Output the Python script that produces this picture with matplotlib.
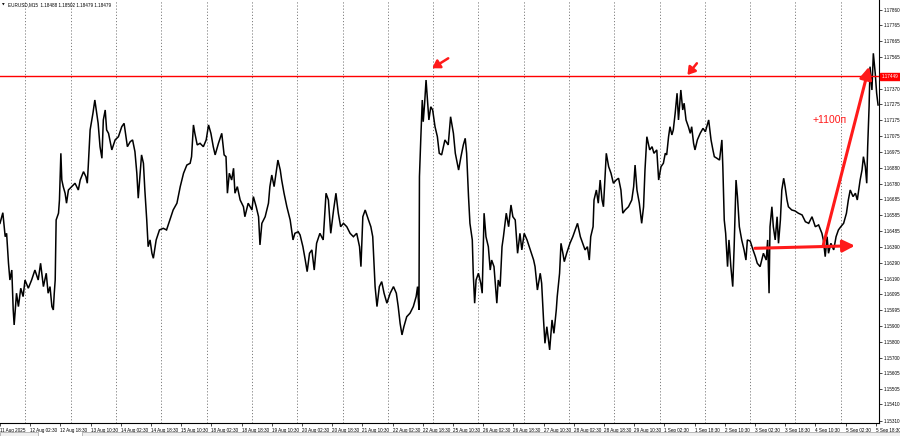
import matplotlib
matplotlib.use("Agg")
import matplotlib.pyplot as plt
from matplotlib.patches import Rectangle

plt.rcParams['font.family'] = ['Liberation Sans', 'DejaVu Sans']

# EURUSD M15, bar 0 = 11 Aug 2025 10:30 (weekends skipped)
bar_idx = [
    0, 6, 11, 14, 18, 21, 25, 28, 30, 35, 39, 44, 49, 53, 60, 67, 74, 81, 86, 92,
    98, 102, 106, 110, 113, 115, 117, 119, 124, 126, 129, 131, 134, 138, 141, 145, 152, 159, 166, 170,
    177, 182, 185, 187, 191, 197, 201, 205, 208, 212, 216, 219, 223, 226, 230, 237, 244, 251, 258, 263,
    267, 270, 276, 281, 286, 290, 293, 297, 300, 304, 307, 311, 314, 318, 322, 325, 331, 338, 346, 353,
    360, 367, 375, 382, 389, 396, 403, 406, 410, 413, 418, 424, 431, 437, 442, 447, 452, 456, 463, 470,
    475, 479, 482, 486, 491, 495, 498, 503, 509, 516, 519, 526, 534, 537, 543, 548, 551, 555, 562, 569,
    572, 576, 581, 585, 589, 594, 597, 602, 608, 615, 621, 625, 632, 636, 642, 647, 651, 656, 661, 666,
    671, 678, 685, 691, 696, 701, 707, 712, 717, 722, 728, 735, 742, 749, 756, 762, 765, 769, 774, 781,
    786, 790, 793, 795, 799, 804, 809, 814, 820, 827, 834, 840, 844, 848, 852, 856, 862, 869, 876, 882,
    885, 888, 889, 892, 895, 897, 900, 903, 906, 909, 913, 917, 922, 927, 931, 936, 943, 950, 955, 961,
    965, 972, 977, 982, 986, 989, 993, 996, 1001, 1003, 1006, 1009, 1014, 1019, 1022, 1026, 1030, 1035, 1039, 1042,
    1047, 1053, 1056, 1060, 1064, 1067, 1073, 1078, 1083, 1087, 1092, 1097, 1102, 1106, 1111, 1117, 1124, 1131, 1134, 1139,
    1145, 1148, 1152, 1155, 1159, 1165, 1170, 1174, 1179, 1181, 1186, 1189, 1193, 1196, 1201, 1208, 1214, 1219, 1224, 1230,
    1235, 1240, 1245, 1249, 1252, 1257, 1259, 1264, 1268, 1272, 1276, 1279, 1285, 1290, 1295, 1300, 1306, 1311, 1316, 1320,
    1325, 1332, 1339, 1343, 1346, 1350, 1355, 1360, 1364, 1367, 1371, 1377, 1382, 1386, 1392, 1396, 1401, 1406, 1410, 1413,
    1417, 1420, 1424, 1427, 1431, 1435, 1438, 1443, 1447, 1450, 1454, 1459, 1463, 1466, 1470, 1473, 1478, 1484, 1490, 1495,
    1502, 1507, 1511, 1514, 1519, 1525, 1530, 1532, 1535, 1538, 1542, 1545, 1549, 1553, 1556, 1560, 1563, 1567, 1572, 1577,
    1581, 1584, 1590, 1596, 1601, 1605, 1611, 1618, 1624, 1627, 1630, 1632, 1636, 1639, 1643, 1647, 1650, 1654, 1657, 1661,
    1664, 1668, 1671, 1678, 1685, 1692, 1700, 1707, 1714, 1721, 1728, 1735, 1742, 1745, 1749, 1753, 1756, 1761, 1767, 1772,
    1777, 1782, 1788, 1794, 1798, 1802, 1808, 1813, 1817, 1823, 1827, 1830, 1834, 1837, 1839, 1842, 1844, 1848, 1851, 1855,
    1858, 1861,
]
price = [
    1.16535, 1.16601, 1.16452, 1.16473, 1.16287, 1.16183, 1.16245, 1.15997, 1.15904, 1.16101,
    1.16018, 1.16132, 1.16080, 1.16183, 1.16132, 1.16183, 1.16245, 1.16183, 1.16287, 1.16142,
    1.16225, 1.16101, 1.16142, 1.16018, 1.15997, 1.16101, 1.16183, 1.16556, 1.16598, 1.16680,
    1.16970, 1.16804, 1.16763, 1.16722, 1.16660, 1.16742, 1.16763, 1.16784, 1.16742, 1.16804,
    1.16856, 1.16825, 1.16784, 1.16887, 1.17115, 1.17219, 1.17301, 1.17219, 1.17156, 1.17011,
    1.16939, 1.17177, 1.17239, 1.17115, 1.17094, 1.16991, 1.17053, 1.17073, 1.17135, 1.17156,
    1.17073, 1.17011, 1.17042, 1.17053, 1.16980, 1.16846, 1.16691, 1.16846, 1.16960, 1.16908,
    1.16742, 1.16556, 1.16390, 1.16432, 1.16349, 1.16318, 1.16432, 1.16494, 1.16504, 1.16494,
    1.16556, 1.16618, 1.16660, 1.16763, 1.16846, 1.16897, 1.16908, 1.16949, 1.17146, 1.17094,
    1.17022, 1.17032, 1.17011, 1.17053, 1.17146, 1.17094, 1.17011, 1.16960, 1.17032, 1.17094,
    1.16960, 1.16949, 1.16722, 1.16846, 1.16804, 1.16877, 1.16722, 1.16763, 1.16680, 1.16638,
    1.16576, 1.16660, 1.16618, 1.16701, 1.16638, 1.16576, 1.16401, 1.16535, 1.16576, 1.16660,
    1.16763, 1.16835, 1.16763, 1.16846, 1.16928, 1.16866, 1.16804, 1.16722, 1.16638, 1.16556,
    1.16432, 1.16473, 1.16483, 1.16463, 1.16390, 1.16307, 1.16235, 1.16349, 1.16370, 1.16245,
    1.16411, 1.16473, 1.16432, 1.16722, 1.16680, 1.16473, 1.16618, 1.16722, 1.16598, 1.16514,
    1.16535, 1.16514, 1.16473, 1.16452, 1.16473, 1.16390, 1.16266, 1.16576, 1.16618, 1.16556,
    1.16514, 1.16452, 1.16266, 1.16142, 1.16018, 1.16142, 1.16173, 1.16101, 1.16039, 1.16101,
    1.16142, 1.16101, 1.16018, 1.15914, 1.15842, 1.15893, 1.15955, 1.15977, 1.16018, 1.16080,
    1.16142, 1.15997, 1.16825, 1.17073, 1.17301, 1.17166, 1.17281, 1.17425, 1.17301, 1.17177,
    1.17259, 1.17239, 1.17135, 1.17073, 1.16970, 1.16960, 1.17053, 1.17022, 1.17197, 1.17094,
    1.16970, 1.16866, 1.16949, 1.17022, 1.17063, 1.16970, 1.16701, 1.16535, 1.16432, 1.16225,
    1.16039, 1.16183, 1.16225, 1.16163, 1.16101, 1.16598, 1.16452, 1.16390, 1.16245, 1.16307,
    1.16266, 1.16039, 1.16183, 1.16142, 1.16390, 1.16452, 1.16598, 1.16514, 1.16649, 1.16576,
    1.16556, 1.16349, 1.16473, 1.16370, 1.16473, 1.16432, 1.16370, 1.16307, 1.16266, 1.16121,
    1.16225, 1.16163, 1.15935, 1.15790, 1.15893, 1.15749, 1.15935, 1.15852, 1.15997, 1.16080,
    1.16225, 1.16411, 1.16349, 1.16297, 1.16349, 1.16411, 1.16452, 1.16494, 1.16535, 1.16452,
    1.16411, 1.16370, 1.16390, 1.16307, 1.16452, 1.16514, 1.16680, 1.16742, 1.16660, 1.16804,
    1.16680, 1.16638, 1.16970, 1.16887, 1.16846, 1.16784, 1.16804, 1.16815, 1.16742, 1.16598,
    1.16618, 1.16638, 1.16680, 1.16763, 1.16897, 1.16742, 1.16660, 1.16535, 1.16638, 1.16866,
    1.17073, 1.16991, 1.17011, 1.16970, 1.16991, 1.16804, 1.16887, 1.16908, 1.16970, 1.16960,
    1.17073, 1.17135, 1.17084, 1.17115, 1.17219, 1.17343, 1.17177, 1.17363, 1.17239, 1.17281,
    1.17177, 1.17135, 1.17094, 1.17135, 1.17032, 1.16991, 1.17053, 1.17094, 1.17125, 1.17104,
    1.17177, 1.17053, 1.16991, 1.16949, 1.16940, 1.16928, 1.17053, 1.16887, 1.16556, 1.16473,
    1.16266, 1.16432, 1.16266, 1.16142, 1.16390, 1.16804, 1.16701, 1.16514, 1.16432, 1.16370,
    1.16307, 1.16432, 1.16425, 1.16370, 1.16328, 1.16287, 1.16266, 1.16349, 1.16307, 1.16432,
    1.16101, 1.16514, 1.16638, 1.16514, 1.16432, 1.16576, 1.16411, 1.16556, 1.16742, 1.16815,
    1.16763, 1.16680, 1.16638, 1.16618, 1.16612, 1.16598, 1.16587, 1.16545, 1.16535, 1.16576,
    1.16514, 1.16525, 1.16473, 1.16432, 1.16328, 1.16452, 1.16349, 1.16411, 1.16370, 1.16452,
    1.16494, 1.16514, 1.16535, 1.16598, 1.16680, 1.16742, 1.16701, 1.16722, 1.16680, 1.16804,
    1.16866, 1.16949, 1.16887, 1.16784, 1.17011, 1.17259, 1.17508, 1.17363, 1.17591, 1.17467,
    1.17343, 1.17270,
]

# 1.17470 is hidden behind the level tag in the reference
price_ticks = [
    1.17860, 1.17765, 1.17665, 1.17565, 1.17370, 1.17275, 1.17175, 1.17075,
    1.16975, 1.16880, 1.16780, 1.16685, 1.16585, 1.16485, 1.16390, 1.16290, 1.16190,
    1.16095, 1.15995, 1.15900, 1.15800, 1.15700, 1.15605, 1.15505, 1.15410, 1.15310,
]
time_labels = [
    "11 Aug 2025", "12 Aug 02:30", "12 Aug 18:30", "13 Aug 10:30", "14 Aug 02:30",
    "14 Aug 18:30", "15 Aug 10:30", "18 Aug 02:30", "18 Aug 18:30", "19 Aug 10:30",
    "20 Aug 02:30", "20 Aug 18:30", "21 Aug 10:30", "22 Aug 02:30", "22 Aug 18:30",
    "25 Aug 10:30", "26 Aug 02:30", "26 Aug 18:30", "27 Aug 10:30", "28 Aug 02:30",
    "28 Aug 18:30", "29 Aug 10:30", "1 Sep 02:30", "1 Sep 18:30", "2 Sep 10:30",
    "3 Sep 02:30", "3 Sep 18:30", "4 Sep 10:30", "5 Sep 02:30", "5 Sep 18:30",
]
label_step = 64      # bars between time labels
first_midnight = 54  # 12 Aug 00:00
bars_per_day = 96
n_days = 19

level = 1.17449
title = "EURUSD,M15  1.18488 1.18502 1.18479 1.18479"

fig = plt.figure(figsize=(9, 4.36), dpi=100)
ax = fig.add_axes([0, 13 / 436, 879 / 900, 423 / 436])
ax.set_xlim(0, 1863)
ax.set_ylim(1.15295, 1.17922)

# day separators
for k in range(n_days):
    ax.axvline(first_midnight + k * bars_per_day, color="#7f7f7f", lw=0.7,
               ls=(0, (1.2, 2.0)), zorder=1)

ax.plot(bar_idx, price, color="black", lw=1.1, zorder=3, solid_joinstyle="miter")

ax.axhline(level, color="#ff0000", lw=1.0, zorder=4)

red = "#ff1a1a"
arrow_small = dict(arrowstyle="-|>,head_length=0.55,head_width=0.35", color=red, lw=1.8,
                   mutation_scale=8, shrinkA=0, shrinkB=0)
ax.annotate("", xy=(916, 1.17498), xytext=(950, 1.17560), arrowprops=arrow_small, zorder=5)
ax.annotate("", xy=(1457, 1.17456), xytext=(1477, 1.17529), arrowprops=arrow_small, zorder=5)

arrow_big = dict(arrowstyle="-|>,head_length=0.6,head_width=0.3", color=red, lw=2.2,
                 mutation_scale=12, shrinkA=0, shrinkB=0)
ax.annotate("", xy=(1812, 1.16396), xytext=(1600, 1.16380), arrowprops=arrow_big, zorder=5)
ax.annotate("", xy=(1842, 1.17508), xytext=(1745, 1.16401), arrowprops=arrow_big, zorder=5)
ax.text(1759, 1.17177, "+1100п", color=red, fontsize=7.5, ha="center", va="center", zorder=5)

# axes look
for s in ["left", "top"]:
    ax.spines[s].set_visible(False)
ax.spines["right"].set_linewidth(0.8)
ax.spines["bottom"].set_linewidth(0.8)

ax.yaxis.tick_right()
ax.set_yticks(price_ticks)
ax.set_yticklabels([f"{v:.5f}" for v in price_ticks])
ax.tick_params(axis="y", labelsize=3.3, length=2, width=0.5, pad=1.5, colors="black")

ax.set_xticks([i * label_step for i in range(len(time_labels))])
ax.set_xticklabels(time_labels, ha="left")
ax.tick_params(axis="x", labelsize=3.3, length=2, width=0.5, pad=1.5)

# current level tag on price scale
ax.text(1.003, level, "1.17449", transform=ax.get_yaxis_transform(), fontsize=3.3,
        color="white", va="center", ha="left",
        bbox=dict(boxstyle="square,pad=0.25", fc="#ff0000", ec="#ff0000"), zorder=6,
        clip_on=False)

fig.text(8 / 900, 1 - 5 / 436, title, fontsize=3.3, va="center", ha="left")
fig.text(2 / 900, 1 - 5 / 436, "▼", fontsize=2.5, va="center", ha="left",
         family="DejaVu Sans")

# tab strip at the bottom
fig.patches.append(Rectangle((0, 0), 38 / 900, 4 / 436, transform=fig.transFigure,
                             fc="#f0f0f0", ec="#a0a0a0", lw=0.5))
fig.patches.append(Rectangle((82 / 900, 0), 818 / 900, 4 / 436, transform=fig.transFigure,
                             fc="#f0f0f0", ec="#a0a0a0", lw=0.5))

fig.savefig("out.png", dpi=100)
